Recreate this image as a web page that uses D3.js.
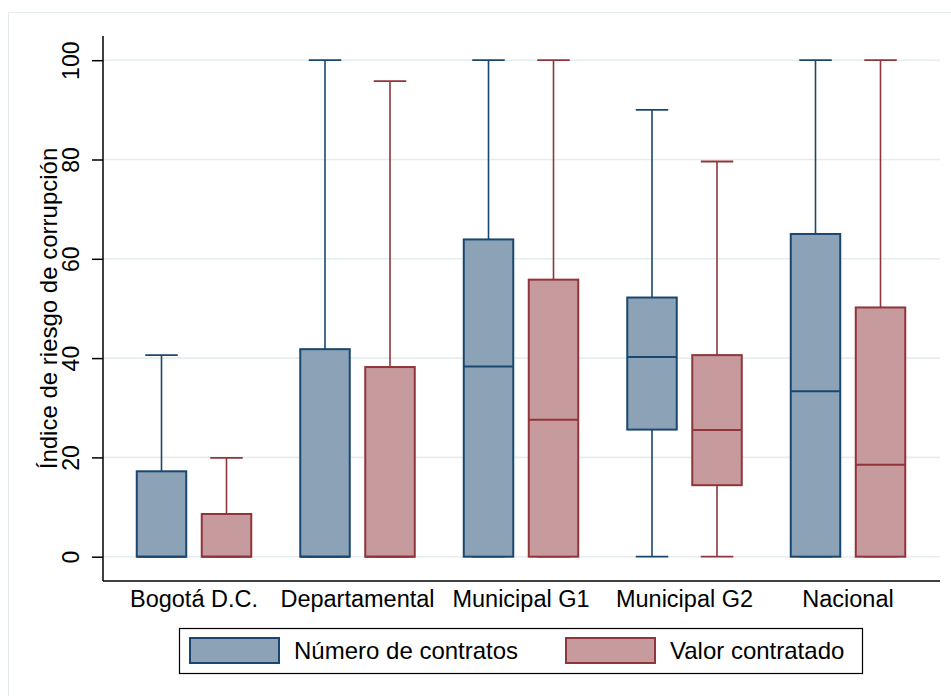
<!DOCTYPE html>
<html>
<head>
<meta charset="utf-8">
<script src="https://cdn.jsdelivr.net/npm/d3@7/dist/d3.min.js"></script>
<style>
  html, body { margin: 0; padding: 0; background: #ffffff; }
  svg { display: block; font-family: "Liberation Sans", Arial, Helvetica, sans-serif; }
</style>
</head>
<body>
<svg id="chart" width="951" height="696"></svg>
<script>
// Categories and series
const categories = ["Bogotá D.C.", "Departamental", "Municipal G1", "Municipal G2", "Nacional"];
const seriesNames = ["Número de contratos", "Valor contratado"];
const yTicks = [0, 20, 40, 60, 80, 100];

// Box statistics for "Número de contratos"
const contratosLow    = [0, 0, 0, 0, 0];
const contratosQ1     = [0, 0, 0, 25.6, 0];
const contratosMedian = [0, 0, 38.3, 40.2, 33.3];
const contratosQ3     = [17.2, 41.8, 63.9, 52.2, 65.0];
const contratosHigh   = [40.6, 100, 100, 90.0, 100];

// Box statistics for "Valor contratado"
const valorLow    = [0, 0, 0, 0, 0];
const valorQ1     = [0, 0, 0, 14.4, 0];
const valorMedian = [0, 0, 27.6, 25.5, 18.5];
const valorQ3     = [8.6, 38.2, 55.8, 40.6, 50.2];
const valorHigh   = [19.9, 95.8, 100, 79.6, 100];

const colors = {
  "Número de contratos": { stroke: "#1a476f", fill: "#8ca3b7" },
  "Valor contratado":    { stroke: "#90353b", fill: "#c79a9d" }
};

function rows(name, low, q1, med, q3, high) {
  return categories.map((c, i) => ({
    category: c, series: name,
    low: low[i], q1: q1[i], median: med[i], q3: q3[i], high: high[i]
  }));
}
const boxes = [
  ...rows(seriesNames[0], contratosLow, contratosQ1, contratosMedian, contratosQ3, contratosHigh),
  ...rows(seriesNames[1], valorLow, valorQ1, valorMedian, valorQ3, valorHigh)
];

const svg = d3.select("#chart");

// Outer frame of the graph region
svg.append("rect")
  .attr("x", 8.5).attr("y", 12.5)
  .attr("width", 1000).attr("height", 1000)
  .attr("fill", "none")
  .attr("stroke", "#e4ecef")
  .attr("stroke-width", 1);

const plot = { left: 103, right: 940, top: 36, bottom: 581 };

const y = d3.scaleLinear().domain([0, 100]).range([556.7, 60.2]);
const x = d3.scaleBand().domain(categories).range([112.25, 929.75]).paddingInner(0).paddingOuter(0);
const sub = d3.scalePoint().domain(seriesNames).range([-32.5, 32.5]);
const boxW = 49.5;
const capW = 32.5;

const cx = d => x(d.category) + x.bandwidth() / 2 + sub(d.series);

// Grid lines
svg.append("g")
  .selectAll("line")
  .data(yTicks)
  .join("line")
  .attr("x1", plot.left).attr("x2", plot.right)
  .attr("y1", d => y(d)).attr("y2", d => y(d))
  .attr("stroke", "#e5edf0")
  .attr("stroke-width", 1.6);

// Boxes
const g = svg.append("g")
  .selectAll("g")
  .data(boxes)
  .join("g");

// Whiskers
g.append("line")
  .attr("x1", cx).attr("x2", cx)
  .attr("y1", d => y(d.q3)).attr("y2", d => y(d.high))
  .attr("stroke", d => colors[d.series].stroke)
  .attr("stroke-width", 1.6);
g.append("line")
  .attr("x1", cx).attr("x2", cx)
  .attr("y1", d => y(d.q1)).attr("y2", d => y(d.low))
  .attr("stroke", d => colors[d.series].stroke)
  .attr("stroke-width", 1.6);
// Caps
g.append("line")
  .attr("x1", d => cx(d) - capW / 2).attr("x2", d => cx(d) + capW / 2)
  .attr("y1", d => y(d.high)).attr("y2", d => y(d.high))
  .attr("stroke", d => colors[d.series].stroke)
  .attr("stroke-width", 1.8);
g.append("line")
  .attr("x1", d => cx(d) - capW / 2).attr("x2", d => cx(d) + capW / 2)
  .attr("y1", d => y(d.low)).attr("y2", d => y(d.low))
  .attr("stroke", d => colors[d.series].stroke)
  .attr("stroke-width", 1.8);
// Box body
g.append("rect")
  .attr("x", d => cx(d) - boxW / 2)
  .attr("width", boxW)
  .attr("y", d => y(d.q3))
  .attr("height", d => y(d.q1) - y(d.q3))
  .attr("fill", d => colors[d.series].fill)
  .attr("stroke", d => colors[d.series].stroke)
  .attr("stroke-width", 2);
// Median
g.append("line")
  .attr("x1", d => cx(d) - boxW / 2).attr("x2", d => cx(d) + boxW / 2)
  .attr("y1", d => y(d.median)).attr("y2", d => y(d.median))
  .attr("stroke", d => colors[d.series].stroke)
  .attr("stroke-width", 2);

// Y axis
const yAxis = svg.append("g")
  .attr("transform", `translate(${plot.left},0)`)
  .call(d3.axisLeft(y).tickValues(yTicks).tickSize(11).tickPadding(0).tickFormat(d3.format("d")));
yAxis.select(".domain").attr("d", `M0,${plot.top}V${plot.bottom}`).attr("stroke", "#000").attr("stroke-width", 1.5);
yAxis.selectAll(".tick line").attr("stroke", "#000").attr("stroke-width", 1.5);
yAxis.selectAll(".tick text")
  .attr("transform", "rotate(-90)")
  .attr("x", 0).attr("y", -24).attr("dy", 0)
  .attr("text-anchor", "middle")
  .attr("fill", "#000")
  .style("font-size", "23px")
  .style("font-family", "'Liberation Sans', Arial, sans-serif");

// X axis line
svg.append("line")
  .attr("x1", plot.left).attr("x2", plot.right)
  .attr("y1", plot.bottom).attr("y2", plot.bottom)
  .attr("stroke", "#000").attr("stroke-width", 1.5);

// Category labels
svg.append("g")
  .selectAll("text")
  .data(categories)
  .join("text")
  .attr("x", d => x(d) + x.bandwidth() / 2)
  .attr("y", 607)
  .attr("text-anchor", "middle")
  .style("font-size", "23.5px")
  .attr("fill", "#000")
  .text(d => d);

// Y axis title
svg.append("text")
  .attr("transform", `translate(57,${(plot.top + plot.bottom) / 2}) rotate(-90)`)
  .attr("text-anchor", "middle")
  .style("font-size", "24px")
  .attr("fill", "#000")
  .text("Índice de riesgo de corrupción");

// Legend
const legend = svg.append("g");
legend.append("rect")
  .attr("x", 179.5).attr("y", 628.5)
  .attr("width", 683).attr("height", 45)
  .attr("fill", "#fff").attr("stroke", "#000").attr("stroke-width", 1.2);
const legendX = d3.scaleOrdinal().domain(seriesNames).range([189, 565]);
const li = legend.selectAll("g.item").data(seriesNames).join("g").attr("class", "item");
li.append("rect")
  .attr("x", d => legendX(d) + 1).attr("y", 638)
  .attr("width", 89).attr("height", 25)
  .attr("fill", d => colors[d].fill)
  .attr("stroke", d => colors[d].stroke)
  .attr("stroke-width", 2);
li.append("text")
  .attr("x", d => legendX(d) + 105)
  .attr("y", 659)
  .style("font-size", "24px")
  .attr("fill", "#000")
  .text(d => d);
</script>
</body>
</html>
